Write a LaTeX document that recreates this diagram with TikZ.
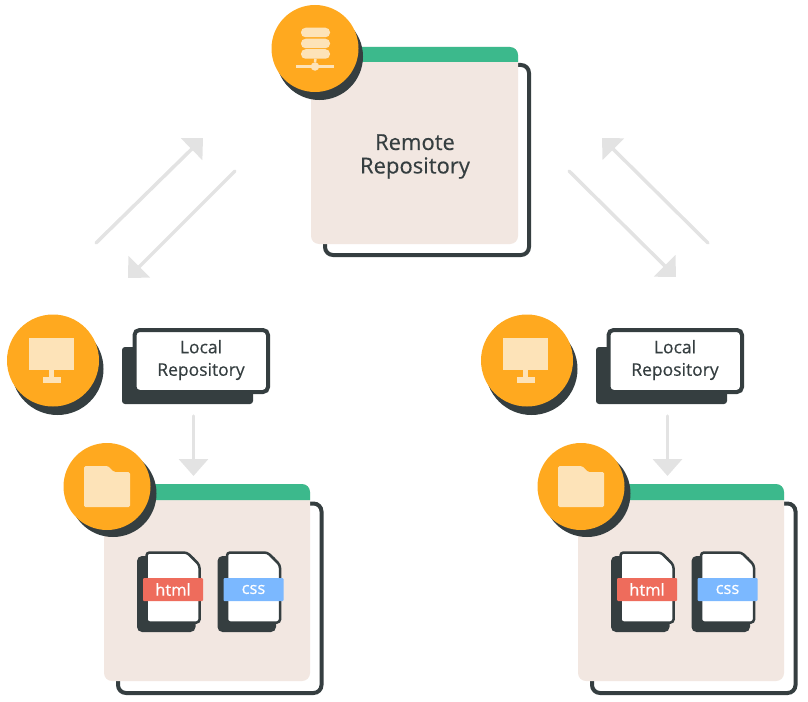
\documentclass[tikz,border=0pt]{standalone}
\usepackage{fontspec}
\setmainfont{Open Sans}[FakeBold=0.35]
\usetikzlibrary{arrows.meta}
\definecolor{darkgray}{HTML}{353E40}
\definecolor{badgeorange}{HTML}{FFA91F}
\definecolor{iconcream}{HTML}{FDE3B8}
\definecolor{cardbeige}{HTML}{F2E7E1}
\definecolor{stripgreen}{HTML}{3CB98C}
\definecolor{arrowgray}{HTML}{E3E3E3}
\definecolor{htmlred}{HTML}{EE6C5C}
\definecolor{cssblue}{HTML}{7BB8FF}
\tikzset{
  every node/.style={outer sep=0pt, inner sep=0pt},
  badge/.style={circle, fill=badgeorange, minimum size=87pt},
  badgeshadow/.style={circle, fill=darkgray, minimum size=87pt},
  cardback/.style={draw=darkgray, line width=4pt, fill=white, rounded corners=8pt, anchor=north west},
  cardbody/.style={fill=cardbeige, rounded corners=8pt, anchor=north west},
  icon/.style={fill=iconcream},
  pill/.style={icon, rounded corners=4.5pt, minimum width=29pt, minimum height=9.5pt},
  flow/.style={draw=arrowgray, line width=3.5pt, line cap=round, -{Triangle[length=16pt,width=30pt]}},
  filetag/.style={minimum width=60pt, minimum height=23pt, rounded corners=1pt, text=white, font=\fontsize{16.5}{18}\selectfont},
  reponame/.style={align=center, text=darkgray}
}
\begin{document}
\begin{tikzpicture}[x=1pt, y=-1pt]
\useasboundingbox (0,0) rectangle (808,701);
% remote repository
\node[cardback, minimum width=204pt, minimum height=190pt] (remoteback) at (325,65) {};
\node[cardbody, minimum width=207pt, minimum height=197pt] (remote) at (311,47) {};
\fill[stripgreen] ([yshift=-15pt]remote.north west) [rounded corners=8pt] -- (remote.north west) -- (remote.north east) [sharp corners] -- ([yshift=-15pt]remote.north east) -- cycle;
\node[reponame, font=\fontsize{22}{23.5}\selectfont] (remotetext) at (415,156.5) {Remote\\Repository};
\node[badgeshadow] (serverdark) at (319.5,56.5) {};
\node[badge] (server) at (315,48.5) {};
\node[pill] (disk1) at (315.5,32.5) {};
\node[pill] (disk2) at (315.5,43.5) {};
\node[pill] (disk3) at (315.5,54) {};
\node[icon, circle, minimum size=8.5pt] (hub) at (315,66.5) {};
\coordinate (netleft) at (296,66.5);
\coordinate (netright) at (334,66.5);
\draw[iconcream, line width=2.5pt] (netleft) -- (netright);
\draw[iconcream, line width=2.5pt] (disk3) -- (hub);
% arrows between remote and local
\coordinate (pushstartL) at (96,243);
\coordinate (pushendL) at (203,138);
\coordinate (pullstartL) at (235,171);
\coordinate (pullendL) at (128,278);
\coordinate (pushstartR) at (708,243);
\coordinate (pushendR) at (602,138);
\coordinate (pullstartR) at (569,171);
\coordinate (pullendR) at (676,277);
\draw[flow] (pushstartL) -- (pushendL);
\draw[flow] (pullstartL) -- (pullendL);
\draw[flow] (pushstartR) -- (pushendR);
\draw[flow] (pullstartR) -- (pullendR);
% the two local machines
\foreach \side/\dx in {L/0pt, R/474pt} {
\begin{scope}[xshift=\dx]
  \node[badgeshadow, minimum size=92pt] (pcdark\side) at (57.5,369) {};
  \node[badge, minimum size=92pt] (pc\side) at (53,360.5) {};
  \node[icon, minimum width=45pt, minimum height=32pt, anchor=north west] (screen\side) at (29,338) {};
  \node[icon, minimum width=5pt, minimum height=8pt, anchor=north] (stem\side) at (51.5,369) {};
  \node[icon, minimum width=18pt, minimum height=6.5pt, anchor=north] (foot\side) at (52,376.5) {};
  \node[fill=darkgray, rounded corners=3pt, anchor=north west, minimum width=131pt, minimum height=57pt] (localdark\side) at (122,347) {};
  \node[draw=darkgray, line width=4pt, fill=white, rounded corners=5pt, anchor=north west, minimum width=133.5pt, minimum height=62pt] (local\side) at (134.5,330) {};
  \node[reponame, font=\fontsize{17.5}{22.5}\selectfont] (localtext\side) at (201,360) {Local\\Repository};
  \coordinate (checkoutstart\side) at (193.5,416);
  \coordinate (checkoutend\side) at (193.5,476);
  \draw[flow, -{Triangle[length=17pt,width=29pt]}] (checkoutstart\side) -- (checkoutend\side);
  \node[cardback, minimum width=203.5pt, minimum height=189.5pt] (workback\side) at (118,503.5) {};
  \node[cardbody, minimum width=206pt, minimum height=197pt] (work\side) at (104,484) {};
  \fill[stripgreen] ([yshift=-16pt]work\side.north west) [rounded corners=8pt] -- (work\side.north west) -- (work\side.north east) [sharp corners] -- ([yshift=-16pt]work\side.north east) -- cycle;
  \node[badgeshadow] (folderdark\side) at (113,493.5) {};
  \node[badge] (folder\side) at (107,486.5) {};
  \fill[icon, rounded corners=1.5pt] (84,466) -- (108,466) -- (114,472) -- (130,472) -- (130,507) -- (84,507) -- cycle;
  \foreach \kind/\tagx/\tagcolor in {html/143/htmlred, css/223.5/cssblue} {
    \node[fill=darkgray, rounded corners=5pt, anchor=north west, minimum width=58.5pt, minimum height=76pt] (\kind back\side) at (\tagx-6,556) {};
    \draw[darkgray, fill=white, line width=2.5pt, rounded corners=3pt] (\tagx+3.5,552.5) -- (\tagx+44,552.5) -- (\tagx+56.5,565) -- (\tagx+56.5,622.5) -- (\tagx+3.5,622.5) -- cycle;
    \node[filetag, fill=\tagcolor, anchor=north west] (\kind\side) at (\tagx,578) {\kind};
  }
\end{scope}
}
\end{tikzpicture}
\end{document}
